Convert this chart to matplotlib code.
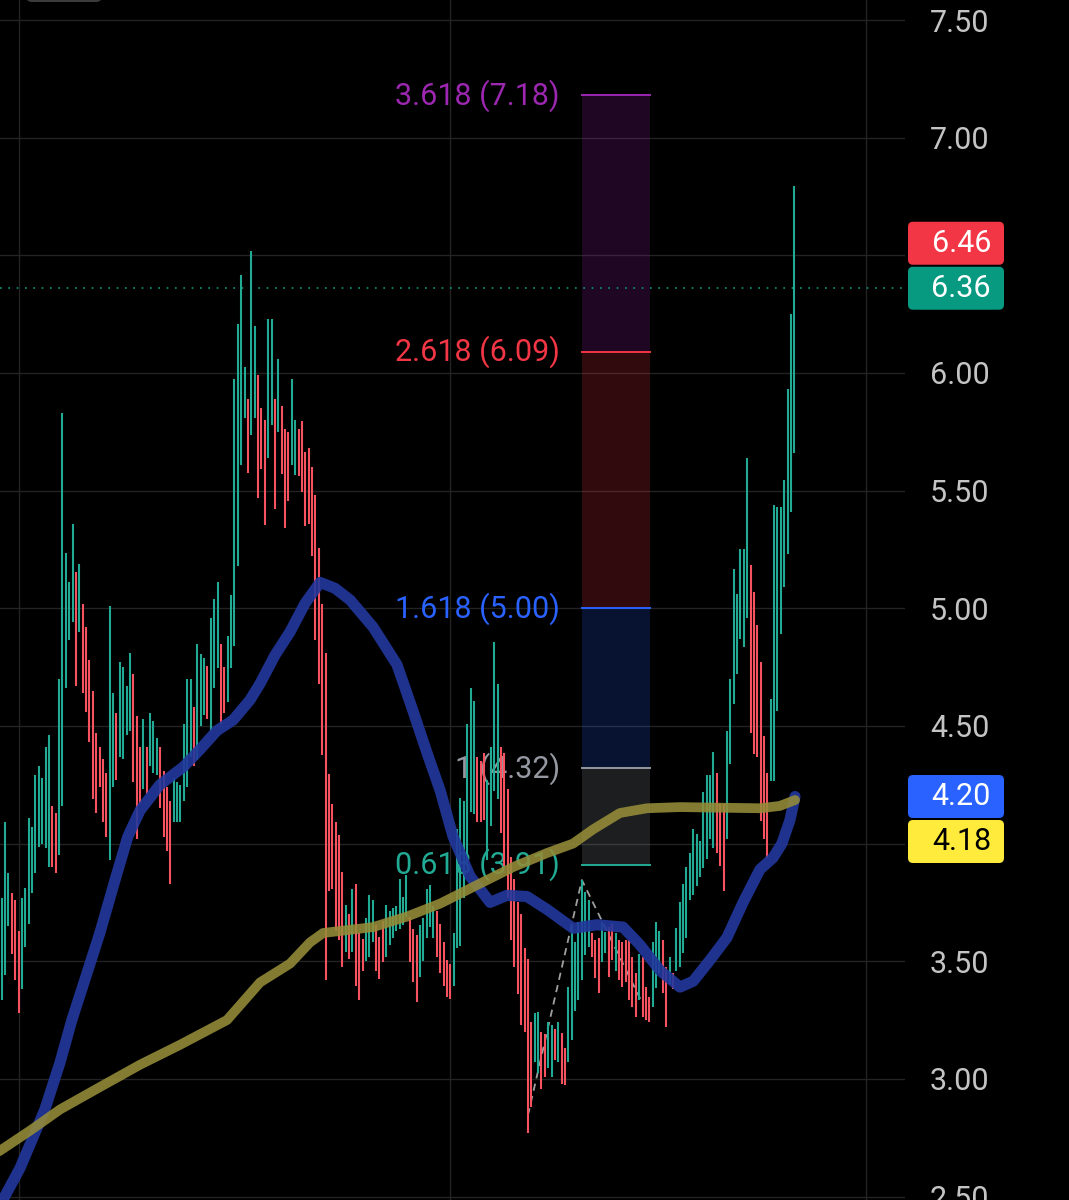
"""Price chart with two moving averages and a trend-based fib extension."""

import matplotlib
matplotlib.use("Agg")
import matplotlib.pyplot as plt
from matplotlib.patches import FancyBboxPatch
from matplotlib.transforms import IdentityTransform

plt.rcParams["font.family"] = ["Roboto", "DejaVu Sans"]

# candle data (one entry per bar, oldest first)
highs = [
    3.77, 4.09, 3.875, 3.79, 3.76, 3.63, 3.77, 3.81, 4.11, 4.07,
    4.29, 4.33, 4.28, 4.41, 4.46, 4.16, 4.13, 4.70, 5.83, 5.235,
    5.11, 5.36, 5.155, 5.19, 5.02, 4.92, 4.78, 4.65, 4.47, 4.41,
    4.36, 4.30, 5.01, 4.64, 4.555, 4.77, 4.75, 4.67, 4.81, 4.72,
    4.54, 4.41, 4.53, 4.41, 4.555, 4.52, 4.45, 4.41, 4.31, 4.24,
    4.18, 4.28, 4.26, 4.25, 4.51, 4.70, 4.70, 4.58, 4.85, 4.805,
    4.79, 4.755, 4.96, 5.04, 5.11, 4.85, 4.75, 4.88, 5.055, 5.975,
    6.21, 6.415, 6.025, 5.89, 6.52, 6.20, 5.99, 5.85, 5.80, 6.23,
    6.23, 5.89, 6.06, 5.86, 5.76, 5.75, 5.975, 5.80, 5.76, 5.795,
    5.665, 5.68, 5.60, 5.48, 5.255, 5.02, 4.81, 4.295, 4.17, 4.09,
    4.035, 3.88, 3.74, 3.70, 3.805, 3.83, 3.62, 3.595, 3.685, 3.78,
    3.76, 3.655, 3.605, 3.67, 3.74, 3.715, 3.725, 3.735, 3.85, 3.775,
    3.865, 3.69, 3.635, 3.61, 3.655, 3.685, 3.805, 3.825, 3.735, 3.715,
    3.66, 3.58, 3.505, 3.49, 3.62, 4.06, 4.195, 4.18, 4.51, 4.66,
    4.605, 4.37, 4.35, 4.385, 4.27, 4.41, 4.855, 4.68, 4.41, 4.385,
    4.23, 3.945, 3.85, 3.75, 3.70, 3.555, 3.51, 3.24, 3.28, 3.285,
    3.20, 3.19, 3.24, 3.23, 3.21, 3.24, 3.195, 3.13, 3.39, 3.655,
    3.58, 3.665, 3.845, 3.795, 3.76, 3.62, 3.59, 3.60, 3.665, 3.625,
    3.645, 3.66, 3.62, 3.59, 3.58, 3.59, 3.59, 3.52, 3.45, 3.53,
    3.52, 3.39, 3.35, 3.58, 3.665, 3.63, 3.59, 3.475, 3.52, 3.45,
    3.64, 3.75, 3.83, 3.90, 3.96, 4.06, 4.04, 4.01, 4.22, 4.29,
    4.29, 4.39, 4.30, 4.17, 4.17, 4.48, 4.70, 5.165, 5.06, 5.25,
    5.25, 5.64, 5.185, 5.07, 4.93, 4.77, 4.455, 4.30, 4.615, 5.44,
    5.43, 5.43, 5.545, 5.93, 6.25, 6.795,
]
lows = [
    3.335, 3.44, 3.65, 3.53, 3.42, 3.28, 3.38, 3.56, 3.66, 3.79,
    3.875, 3.985, 4.00, 3.98, 3.90, 3.90, 3.875, 3.95, 4.16, 4.66,
    4.865, 4.94, 4.67, 4.90, 4.64, 4.56, 4.43, 4.19, 4.13, 4.24,
    4.09, 4.03, 3.93, 4.24, 4.27, 4.37, 4.36, 4.46, 4.48, 4.26,
    4.02, 4.17, 4.23, 4.21, 4.33, 4.30, 4.29, 4.15, 4.03, 3.97,
    3.83, 4.09, 4.09, 4.09, 4.18, 4.24, 4.37, 4.33, 4.355, 4.50,
    4.545, 4.53, 4.48, 4.66, 4.745, 4.51, 4.555, 4.60, 4.745, 4.84,
    5.18, 5.61, 5.81, 5.575, 5.735, 5.81, 5.47, 5.59, 5.355, 5.64,
    5.78, 5.42, 5.75, 5.57, 5.34, 5.455, 5.61, 5.565, 5.56, 5.495,
    5.35, 5.36, 5.22, 4.865, 4.68, 4.375, 3.42, 3.80, 3.805, 3.63,
    3.59, 3.475, 3.54, 3.51, 3.54, 3.395, 3.335, 3.46, 3.50, 3.52,
    3.58, 3.46, 3.425, 3.495, 3.52, 3.57, 3.60, 3.63, 3.635, 3.655,
    3.69, 3.495, 3.41, 3.325, 3.435, 3.50, 3.60, 3.645, 3.60, 3.52,
    3.45, 3.395, 3.35, 3.34, 3.395, 3.555, 3.565, 3.77, 3.905, 4.135,
    4.125, 4.09, 4.09, 4.10, 3.93, 4.075, 4.225, 4.19, 4.045, 3.905,
    3.77, 3.59, 3.475, 3.36, 3.23, 3.20, 2.77, 2.88, 3.07, 3.025,
    2.955, 3.01, 3.045, 3.01, 3.08, 3.07, 2.98, 2.975, 3.07, 3.165,
    3.29, 3.335, 3.42, 3.525, 3.56, 3.52, 3.43, 3.365, 3.495, 3.535,
    3.435, 3.505, 3.46, 3.42, 3.39, 3.41, 3.335, 3.305, 3.265, 3.335,
    3.265, 3.25, 3.24, 3.305, 3.385, 3.45, 3.365, 3.22, 3.405, 3.38,
    3.46, 3.475, 3.535, 3.60, 3.76, 3.78, 3.82, 3.86, 3.895, 3.935,
    4.02, 3.98, 3.96, 3.905, 3.80, 4.02, 4.34, 4.595, 4.72, 4.87,
    4.835, 4.96, 4.47, 4.38, 4.37, 4.095, 4.02, 3.94, 4.265, 4.265,
    4.565, 4.89, 5.09, 5.23, 5.41, 5.66,
]
up = [
    1, 1, 1, 0, 0, 0, 1, 1, 1, 1,
    1, 1, 1, 1, 1, 0, 0, 1, 1, 1,
    1, 1, 0, 1, 0, 0, 0, 0, 0, 0,
    0, 0, 1, 1, 0, 1, 1, 1, 1, 0,
    0, 0, 1, 0, 1, 1, 1, 0, 0, 0,
    0, 1, 1, 1, 1, 1, 1, 0, 1, 1,
    1, 0, 1, 1, 1, 0, 0, 1, 1, 1,
    1, 1, 1, 0, 1, 1, 0, 0, 0, 1,
    1, 0, 1, 0, 0, 0, 1, 1, 0, 0,
    0, 0, 0, 0, 0, 0, 0, 0, 0, 0,
    0, 0, 1, 0, 1, 0, 0, 0, 1, 1,
    1, 0, 0, 0, 1, 1, 1, 1, 1, 1,
    1, 0, 0, 0, 1, 1, 1, 1, 1, 0,
    0, 0, 0, 0, 1, 1, 1, 1, 1, 1,
    1, 0, 0, 0, 1, 1, 1, 1, 0, 0,
    0, 0, 0, 0, 0, 0, 0, 0, 1, 1,
    0, 0, 1, 1, 0, 1, 0, 0, 1, 1,
    1, 1, 1, 1, 1, 0, 0, 0, 1, 1,
    0, 0, 1, 0, 0, 0, 0, 0, 0, 1,
    0, 0, 0, 1, 1, 1, 0, 0, 1, 0,
    1, 1, 1, 1, 1, 1, 1, 1, 1, 1,
    1, 1, 0, 0, 0, 1, 1, 1, 1, 1,
    1, 1, 0, 0, 0, 0, 0, 0, 1, 1,
    1, 1, 1, 1, 1, 1,
]

# moving averages, sampled at bar positions
blue_idx = [-1, 5.4, 12.8, 17.3, 20.8, 25.3, 29.1, 33.6, 37.4, 41.0,
            46.9, 53.8, 58.8, 63.8, 68.6, 73.6, 76.6, 81.0, 85.5, 89.9,
            94.4, 98.8, 103.3, 110.1, 117.2, 121.9, 126.1, 130.0, 133.8, 138.9,
            144.8, 149.8, 155.7, 161.7, 169.4, 176.5, 184.2, 189.2, 195.2, 201.1,
            205.0, 210.0, 215.0, 219.8, 224.8, 228.7, 231.3, 233.7, 235.2]
blue_val = [2.45, 2.62, 2.87, 3.07, 3.25, 3.45, 3.62, 3.845, 4.03, 4.14,
            4.25, 4.325, 4.40, 4.48, 4.525, 4.61, 4.68, 4.80, 4.90, 5.02,
            5.11, 5.085, 5.035, 4.92, 4.76, 4.565, 4.385, 4.225, 4.03, 3.86,
            3.75, 3.78, 3.775, 3.72, 3.64, 3.655, 3.645, 3.57, 3.46, 3.39,
            3.415, 3.505, 3.60, 3.75, 3.89, 3.94, 4.00, 4.10, 4.20]

yellow_idx = [-1, 8.4, 17.3, 29.1, 41.0, 52.9, 66.8, 76.6, 85.5, 91.4,
              95.3, 110.1, 120.2, 130.0, 139.7, 151.6, 161.7, 169.4, 175.3, 183.3,
              191.3, 201.1, 224.8, 230.7, 235.2]
yellow_val = [2.69, 2.78, 2.87, 2.965, 3.06, 3.145, 3.25, 3.41, 3.49, 3.58,
              3.62, 3.645, 3.69, 3.745, 3.815, 3.90, 3.96, 4.00, 4.06, 4.13,
              4.15, 4.155, 4.15, 4.16, 4.185]

# fib extension
fib_ratios = ["3.618", "2.618", "1.618", "1", "0.618"]
fib_prices = [7.18, 6.09, 5.00, 4.32, 3.91]
fib_colors = ["#9c27b0", "#f23645", "#2962ff", "#9598a1", "#22ab94"]
fib_span = (172.0, 192.2)
swing_idx = [156, 172, 190]
swing_val = [2.845, 3.845, 3.32]

price_ticks = [2.5, 3.0, 3.5, 4.0, 4.5, 5.0, 5.5, 6.0, 6.5, 7.0, 7.5]
# 4.00 and 6.50 sit under the price tags, so they show no label
tick_labels = ["2.50", "3.00", "3.50", "", "4.50", "5.00", "5.50", "6.00",
               "", "7.00", "7.50"]
time_grid = [5.1, 132.9, 256.2]

# price tags on the scale: value, colour, text colour, anchor, slot
tag_values = [6.46, 6.36, 4.20, 4.18]
tag_colors = ["#f23645", "#089981", "#2962ff", "#ffeb3b"]
tag_text = ["white", "white", "white", "black"]
tag_anchor = [6.36, 6.36, 4.20, 4.20]
tag_slot = [1, 0, 0, -1]
last_price = 6.36

UP_COLOR = "#22ab94"
DOWN_COLOR = "#f7525f"
BG = "#000000"

W, H = 1069, 1200
fig = plt.figure(figsize=(W / 100, H / 100), dpi=100, facecolor=BG)
ax = fig.add_axes([0, 0, 905 / W, 1])
ax.set_facecolor(BG)
ax.set_xlim(-0.504, 267.8)
ax.set_ylim(2.4852, 7.585)
for s in ax.spines.values():
    s.set_visible(False)

# grid
for p in price_ticks:
    ax.axhline(p, color="#232323", lw=1.0, zorder=0)
for g in time_grid:
    ax.axvline(g, color="#232323", lw=1.0, zorder=0)

# fib zones, levels and labels
for k in range(len(fib_prices) - 1):
    ax.fill_between(fib_span, fib_prices[k + 1], fib_prices[k],
                    color=fib_colors[k], alpha=0.2, lw=0, zorder=0.5)
for r, p, c in zip(fib_ratios, fib_prices, fib_colors):
    ax.plot(fib_span, [p, p], color=c, lw=1.4, zorder=1)
    ax.text(165.5, p, f"{r} ({p:.2f})", color=c, fontsize=22,
            ha="right", va="center", zorder=1)

ax.plot(swing_idx, swing_val, color="#a0a0a0", lw=1.3,
        ls=(0, (4, 3)), zorder=1.5)

# last price line
ax.axhline(last_price, color="#089981", lw=1.2, ls=(0, (1, 4)), zorder=1)

# candles
xs = list(range(len(highs)))
cols = [UP_COLOR if u else DOWN_COLOR for u in up]
ax.vlines(xs, lows, highs, colors=cols, lw=1.5, zorder=2)

# moving averages
ax.plot(blue_idx, blue_val, color="#22389e", lw=8, alpha=0.9,
        solid_capstyle="round", solid_joinstyle="round", zorder=3)
ax.plot(yellow_idx, yellow_val, color="#958d38", lw=7.0, alpha=0.88,
        solid_capstyle="round", solid_joinstyle="round", zorder=3)

# price scale
ax.set_xticks([])
ax.yaxis.tick_right()
ax.set_yticks(price_ticks)
ax.set_yticklabels(tick_labels)
ax.tick_params(axis="y", length=0, pad=18, labelsize=22, labelcolor="#c4c4c4")

# tags on the price scale
box_h = 45
for v, c, tc, a, s in zip(tag_values, tag_colors, tag_text, tag_anchor, tag_slot):
    yc = ax.transData.transform((0, a))[1] + s * box_h
    box = FancyBboxPatch((908, yc - box_h / 2 + 1), 96, box_h - 2,
                         boxstyle="round,pad=0,rounding_size=5",
                         transform=IdentityTransform(), facecolor=c,
                         edgecolor="none", zorder=5)
    fig.add_artist(box)
    fig.text(991 / W, yc / H, f"{v:.2f}", color=tc, fontsize=22,
             ha="right", va="center", zorder=6)

# partly visible toolbar button at the top
fig.add_artist(FancyBboxPatch((26, H - 2), 76, 20,
                              boxstyle="round,pad=0,rounding_size=6",
                              transform=IdentityTransform(),
                              facecolor="#3c3c3c", edgecolor="none"))

fig.savefig("out.png", dpi=100, facecolor=BG)
